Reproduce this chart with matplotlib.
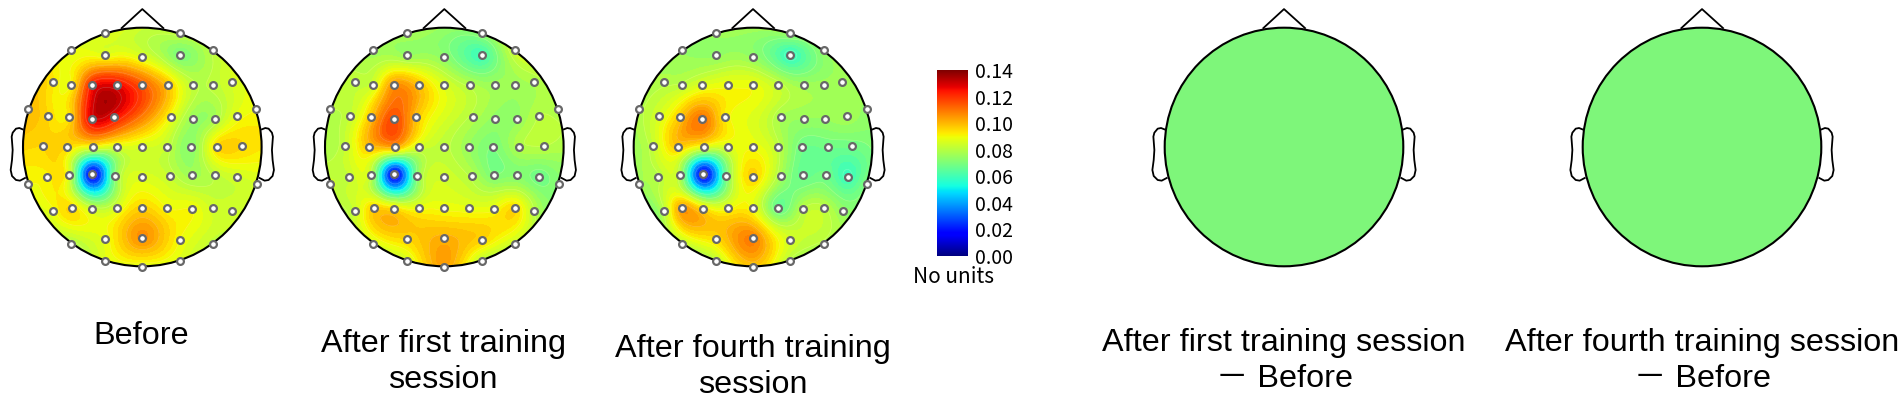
import numpy as np
import matplotlib
matplotlib.use("Agg")
import matplotlib.pyplot as plt
from matplotlib.patches import Circle

W, H = 1901, 398

# electrode positions, x/y as fraction of head radius (x right, y up)
elec_px = [(315,98),(539,98),
           (214,150),(315,164),(427,171),(539,164),(639,150),
           (160,246),(214,256),(275,254),(351,254),(427,256),(503,254),(579,254),(639,256),(695,246),
           (85,328),(769,328),
           (145,347),(208,352),(275,356),(342,352),(512,352),(579,356),(644,356),(710,347),
           (128,439),(201,440),(280,441),(351,441),(427,441),(502,441),(573,441),(652,440),(725,439),
           (142,531),(208,524),(277,522),(345,527),(427,530),(510,527),(576,524),(645,524),(711,531),
           (84,551),(770,551),
           (159,633),(215,624),(277,626),(352,625),(427,625),(501,625),(577,626),(639,625),(696,633),
           (214,732),(315,718),(427,714),(539,719),(640,733),
           (315,784),(427,801),(539,784)]
elec_x = np.array([(p[0] - 427) / 358 for p in elec_px])
elec_y = np.array([(441 - p[1]) / 358 for p in elec_px])

before = [.088,.082,
          .088,.087,.086,.070,.081,
          .093,.090,.122,.126,.114,.098,.081,.081,.085,
          .100,.090,
          .095,.093,.128,.125,.089,.075,.077,.088,
          .095,.095,.088,.085,.085,.082,.072,.095,.095,
          .091,.086,.012,.072,.086,.082,.076,.081,.084,
          .090,.085,
          .089,.095,.083,.086,.096,.090,.090,.084,.084,
          .078,.088,.106,.090,.081,
          .086,.087,.086]

after_first = [.078,.074,
               .076,.074,.073,.060,.084,
               .082,.084,.105,.098,.086,.079,.076,.076,.078,
               .080,.079,
               .082,.098,.116,.098,.079,.074,.074,.080,
               .082,.098,.102,.084,.081,.075,.070,.079,.080,
               .082,.081,.012,.072,.084,.079,.070,.072,.068,
               .083,.072,
               .083,.096,.094,.089,.089,.088,.089,.095,.080,
               .085,.095,.101,.096,.082,
               .085,.103,.080]

after_fourth = [.076,.076,
                .075,.074,.074,.058,.074,
                .079,.081,.086,.089,.089,.082,.076,.076,.076,
                .079,.074,
                .085,.097,.110,.092,.077,.075,.075,.077,
                .082,.097,.087,.086,.089,.081,.068,.068,.068,
                .079,.079,.012,.067,.096,.077,.066,.068,.059,
                .077,.071,
                .079,.104,.094,.089,.089,.066,.080,.081,.074,
                .080,.094,.108,.085,.079,
                .080,.097,.079]

cbar_ticks = [0.00, 0.02, 0.04, 0.06, 0.08, 0.10, 0.12, 0.14]
vmin, vmax = 0.0, 0.14

# head outline
nose_x = [-0.173, 0.0, 0.176]
nose_y = [0.997, 1.156, 0.997]
ear_px = [(68,388),(58,384),(48,386),(38,398),(35,410),(38,450),(36,480),(32,510),
          (36,528),(48,540),(60,542),(75,534)]
ear_x = np.array([(p[0] - 427) / 358 for p in ear_px])
ear_y = np.array([(441 - p[1]) / 358 for p in ear_px])


def spline_fit(x, y, z, gx, gy):
    # thin plate spline through the electrode values
    n = len(x)
    d = np.hypot(x[:, None] - x[None, :], y[:, None] - y[None, :])
    with np.errstate(divide='ignore', invalid='ignore'):
        K = np.nan_to_num(d ** 2 * np.log(d))
    P = np.column_stack([np.ones(n), x, y])
    A = np.block([[K + 5e-4 * np.eye(n), P], [P.T, np.zeros((3, 3))]])
    w = np.linalg.solve(A, np.r_[z, np.zeros(3)])
    dg = np.hypot(gx[..., None] - x, gy[..., None] - y)
    with np.errstate(divide='ignore', invalid='ignore'):
        Kg = np.nan_to_num(dg ** 2 * np.log(dg))
    return Kg @ w[:n] + w[n] + w[n + 1] * gx + w[n + 2] * gy


def head_axes(fig, cx, cy, r):
    box = 1.25 * r
    ax = fig.add_axes([(cx - box) / W, 1 - (cy + box) / H, 2 * box / W, 2 * box / H])
    ax.set_xlim(-1.25, 1.25)
    ax.set_ylim(-1.25, 1.25)
    ax.axis('off')
    return ax


def draw_outline(ax):
    ax.plot(nose_x, nose_y, color='black', lw=1.3, zorder=2)
    ax.plot(ear_x, ear_y, color='black', lw=1.3, zorder=2)
    ax.plot(-ear_x, ear_y, color='black', lw=1.3, zorder=2)


def draw_map(fig, cx, cy, r, values):
    ax = head_axes(fig, cx, cy, r)
    gx, gy = np.meshgrid(np.linspace(-1.02, 1.02, 300), np.linspace(-1.02, 1.02, 300))
    gz = np.clip(spline_fit(elec_x, elec_y, np.array(values), gx, gy), vmin, vmax)
    clip = Circle((0, 0), 1.0, transform=ax.transData)
    cf = ax.contourf(gx, gy, gz, levels=np.linspace(vmin, vmax, 57), cmap='jet',
                     vmin=vmin, vmax=vmax, zorder=1)
    cf.set_clip_path(clip)
    cl = ax.contour(gx, gy, gz, levels=np.arange(0.01, 0.14, 0.01), colors='white',
                    linewidths=0.5, alpha=0.2, zorder=1)
    cl.set_clip_path(clip)
    ax.add_patch(Circle((0, 0), 1.0, fill=False, ec='black', lw=1.5, zorder=3))
    draw_outline(ax)
    ax.scatter(elec_x, elec_y, s=24, facecolor='white', edgecolor='#686868', lw=1.6,
               zorder=4, clip_on=False)


def draw_diff(fig, cx, cy, r):
    ax = head_axes(fig, cx, cy, r)
    ax.add_patch(Circle((0, 0), 1.0, fc='#7ef67a', ec='black', lw=1.5, zorder=3))
    draw_outline(ax)


fig = plt.figure(figsize=(W / 100, H / 100), dpi=100)
plt.rcParams['font.family'] = ['Liberation Sans', 'DejaVu Sans']

draw_map(fig, 142.3, 147, 119.3, before)
draw_map(fig, 444.3, 147, 119.3, after_first)
draw_map(fig, 753, 147, 119.3, after_fourth)
draw_diff(fig, 1284, 147, 119.3)
draw_diff(fig, 1702, 147, 119.3)

# colour bar
cax = fig.add_axes([937 / W, 1 - 256 / H, 31 / W, 186 / H])
grad = np.linspace(vmin, vmax, 256).reshape(-1, 1)
cax.imshow(grad, origin='lower', aspect='auto', cmap='jet', vmin=vmin, vmax=vmax,
           extent=[0, 1, vmin, vmax])
cax.set_xticks([])
cax.yaxis.tick_right()
cax.set_yticks(cbar_ticks)
cax.set_yticklabels(['%.2f' % t for t in cbar_ticks], fontsize=14,
                    family=['Noto Sans CJK JP', 'DejaVu Sans'])
cax.tick_params(axis='y', length=0, pad=5)
for s in cax.spines.values():
    s.set_visible(False)

fig.text(953 / W, 1 - 277 / H, 'No units', fontsize=15, ha='center', va='center',
         family=['Noto Sans CJK JP', 'DejaVu Sans'])

labels = [(141, 336, 'Before'),
          (443, 362, 'After first training\nsession'),
          (753, 367, 'After fourth training\nsession'),
          (1284, 361, 'After first training session\n\uff0d Before'),
          (1702, 361, 'After fourth training session\n\uff0d Before')]
for x, y, txt in labels:
    fig.text(x / W, 1 - y / H, txt, fontsize=23.3, ha='center', va='center', linespacing=1.26,
             family=['Liberation Sans', 'Noto Sans CJK JP', 'DejaVu Sans'])

fig.savefig('out.png', dpi=100)
plt.close(fig)
